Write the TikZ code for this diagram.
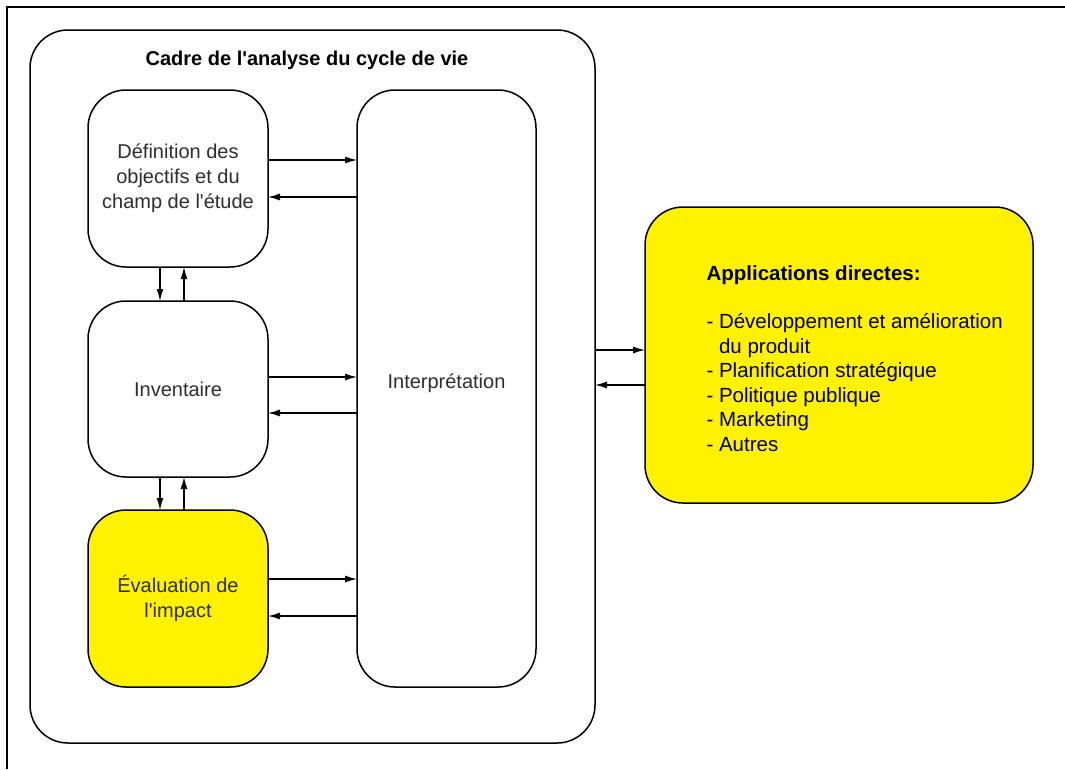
\documentclass[tikz,border=0pt]{standalone}
\usepackage{fontspec}
\setmainfont{Liberation Sans}
\usetikzlibrary{arrows.meta}

\definecolor{jaune}{RGB}{255,242,0}
\definecolor{texte}{RGB}{45,45,45}

\tikzset{
	boite/.style={draw, line width=1.5pt, rounded corners=38pt, inner sep=0pt, outer sep=0pt,
		align=center, text=texte, font=\fontsize{20}{25}\selectfont},
	fleche/.style={->, line width=1.3pt}
}

\begin{document}
\begin{tikzpicture}[x=1pt,y=-1pt,>={Latex[length=12pt,width=7pt]}]

	\useasboundingbox (0,0) rectangle (1065,769);
	\draw[line width=1.6pt] (7,769) -- (7,7) -- (1065,7);

	% cadre
	\node[boite, minimum width=565pt, minimum height=713pt] (cadre) at (312.5,386.5) {};
	\node[font=\bfseries\fontsize{20}{25}\selectfont] (titre) at (307,60) {Cadre de l\textquotesingle analyse du cycle de vie};

	\node[boite, minimum width=180pt, minimum height=177pt] (def) at (178,178.5) {D\'efinition des\\objectifs et du\\champ de l\textquotesingle\'etude};
	\node[boite, minimum width=180pt, minimum height=176pt] (inv) at (178,389) {Inventaire};
	\node[boite, fill=jaune, minimum width=180pt, minimum height=177pt] (eval) at (178,598.5) {\'Evaluation de\\l\textquotesingle impact};

	\node[boite, minimum width=179pt, minimum height=597pt] (interp) at (446.5,388.5) {};
	\node[text=texte, font=\fontsize{20}{25}\selectfont] (interptxt) at (446.5,383) {Interpr\'etation};

	% applications
	\node[boite, fill=jaune, minimum width=388pt, minimum height=296pt] (appl) at (839,355) {};
	\node[anchor=north west, align=left, font=\fontsize{20.5}{24.5}\selectfont] (liste) at (703,262)
		{\textbf{Applications directes:}\\[24pt]
		- D\'eveloppement et am\'elioration\\
		\phantom{- }du produit\\
		- Planification strat\'egique\\
		- Politique publique\\
		- Marketing\\
		- Autres};

	\draw[fleche] (def.east |- 0,160) -- (interp.west |- 0,160);
	\draw[fleche] (interp.west |- 0,197) -- (def.east |- 0,197);
	\draw[fleche] (inv.east |- 0,377) -- (interp.west |- 0,377);
	\draw[fleche] (interp.west |- 0,413) -- (inv.east |- 0,413);
	\draw[fleche] (eval.east |- 0,579) -- (interp.west |- 0,579);
	\draw[fleche] (interp.west |- 0,616) -- (eval.east |- 0,616);

	\draw[fleche] (def.south -| 160,0) -- (inv.north -| 160,0);
	\draw[fleche] (inv.north -| 184,0) -- (def.south -| 184,0);
	\draw[fleche] (inv.south -| 160,0) -- (eval.north -| 160,0);
	\draw[fleche] (eval.north -| 184,0) -- (inv.south -| 184,0);

	\draw[fleche] (cadre.east |- 0,350) -- (appl.west |- 0,350);
	\draw[fleche] (appl.west |- 0,385) -- (cadre.east |- 0,385);
\end{tikzpicture}
\end{document}
